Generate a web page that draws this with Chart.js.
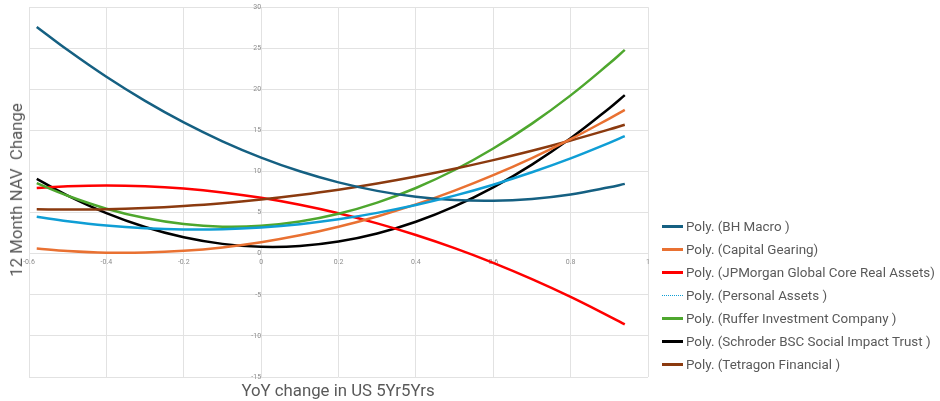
<!DOCTYPE html>
<html>
<head>
<meta charset="utf-8">
<script src="https://cdn.jsdelivr.net/npm/chart.js@4/dist/chart.umd.min.js"></script>
<style>
  html, body { margin: 0; padding: 0; background: #fff; }
  #wrap { position: relative; width: 940px; height: 401px; overflow: hidden; font-family: Roboto, "Liberation Sans", sans-serif; }
  #wrap canvas { position: absolute; left: 0; top: 0; }
  .ytitle { position: absolute; left: 16px; top: 190px; transform: translate(-50%, -50%) rotate(-90deg); white-space: pre; font-size: 16.8px; color: #595959; }
  .xtitle { position: absolute; left: 338px; top: 390px; transform: translate(-50%, -50%); white-space: pre; font-size: 16.8px; color: #595959; }
  #legend { position: absolute; left: 662px; top: 215px; }
  .item { height: 23px; display: flex; align-items: center; font-size: 13.4px; color: #595959; white-space: pre; }
  .swatch { width: 21px; height: 2.5px; margin-right: 3px; }
  .swatch.dot { height: 1px; }
</style>
</head>
<body>
<div id="wrap">
  <canvas id="chart" width="940" height="401"></canvas>
  <div class="ytitle">12 Month NAV  Change</div>
  <div class="xtitle">YoY change in US 5Yr5Yrs</div>
  <div id="legend"></div>
</div>
<script>
"use strict";
var xs = [-0.58, -0.5, -0.4, -0.3, -0.2, -0.1, 0, 0.1, 0.2, 0.3, 0.4, 0.5, 0.6, 0.7, 0.8, 0.9, 0.94];

var bhMacro    = [27.6, 24.78, 21.53, 18.6, 15.98, 13.68, 11.7, 10.03, 8.68, 7.65, 6.93, 6.53, 6.44, 6.67, 7.21, 8.08, 8.5];
var capGearing = [0.65, 0.34, 0.13, 0.14, 0.35, 0.77, 1.4, 2.24, 3.29, 4.54, 6.0, 7.68, 9.56, 11.64, 13.94, 16.45, 17.5];
var jpmGlobal  = [8.0, 8.21, 8.31, 8.21, 7.93, 7.46, 6.8, 5.95, 4.92, 3.69, 2.28, 0.68, -1.11, -3.09, -5.25, -7.61, -8.6];
var personal   = [4.5, 3.95, 3.43, 3.1, 2.95, 2.98, 3.2, 3.6, 4.19, 4.97, 5.93, 7.07, 8.4, 9.91, 11.6, 13.49, 14.3];
var ruffer     = [8.6, 7.05, 5.48, 4.34, 3.61, 3.29, 3.4, 3.92, 4.86, 6.22, 8.0, 10.19, 12.8, 15.83, 19.27, 23.14, 24.8];
var schroder   = [9.1, 7.07, 4.94, 3.25, 2.0, 1.2, 0.85, 0.94, 1.48, 2.46, 3.89, 5.76, 8.08, 10.85, 14.05, 17.71, 19.3];
var tetragon   = [5.4, 5.37, 5.41, 5.56, 5.81, 6.15, 6.6, 7.15, 7.79, 8.54, 9.39, 10.34, 11.39, 12.53, 13.78, 15.13, 15.7];

var xTicks = [-0.6, -0.4, -0.2, 0, 0.2, 0.4, 0.6, 0.8, 1];
var yTicks = [-15, -10, -5, 0, 5, 10, 15, 20, 25, 30];

var names = [
  "Poly. (BH Macro )",
  "Poly. (Capital Gearing)",
  "Poly. (JPMorgan Global Core Real Assets)",
  "Poly. (Personal Assets )",
  "Poly. (Ruffer Investment Company )",
  "Poly. (Schroder BSC Social Impact Trust )",
  "Poly. (Tetragon Financial )"
];
var series = [bhMacro, capGearing, jpmGlobal, personal, ruffer, schroder, tetragon];
var colors = ["#156082", "#E97132", "#FF0000", "#0F9ED5", "#4EA72E", "#000000", "#8B3A0F"];

// draw order: Personal Assets sits under the others
var order = [3, 0, 1, 6, 4, 2, 5];

var datasets = order.map(function(i) {
  return {
    label: names[i],
    data: xs.map(function(x, k) { return { x: x, y: series[i][k] }; }),
    borderColor: colors[i],
    borderWidth: 2.5,
    pointRadius: 0,
    fill: false,
    tension: 0.4
  };
});

var tickFont = { family: "Roboto, 'Liberation Sans', sans-serif", size: 7 };

new Chart(document.getElementById("chart").getContext("2d"), {
  type: 'line',
  data: { datasets: datasets },
  options: {
    responsive: false,
    animation: false,
    layout: { padding: { left: 29, top: 3, right: 292, bottom: 24 } },
    plugins: { legend: { display: false }, tooltip: { enabled: false } },
    scales: {
      x: {
        type: 'linear', min: -0.6, max: 1,
        position: { y: 0 },
        border: { display: false },
        grid: { color: '#e2e2e2', lineWidth: 1, drawTicks: false },
        afterBuildTicks: function(s) { s.ticks = xTicks.map(function(v) { return { value: v }; }); },
        ticks: { font: tickFont, color: '#8c8c8c', padding: 4, maxRotation: 0, autoSkip: false,
          callback: function(v) { return String(v); } }
      },
      y: {
        type: 'linear', min: -15, max: 30,
        position: { x: 0 },
        border: { display: false },
        grid: { color: '#e2e2e2', lineWidth: 1, drawTicks: false },
        afterBuildTicks: function(s) { s.ticks = yTicks.map(function(v) { return { value: v }; }); },
        ticks: { font: tickFont, color: '#8c8c8c', padding: 3, autoSkip: false,
          callback: function(v) { return String(v); } }
      }
    }
  }
});

// legend in the original series order
var legend = document.getElementById("legend");
names.forEach(function(n, i) {
  var row = document.createElement("div");
  row.className = "item";
  var sw = document.createElement("span");
  sw.className = "swatch";
  if (i === 3) {
    sw.className += " dot";
    sw.style.background = "repeating-linear-gradient(to right, " + colors[i] + " 0 1px, transparent 1px 2px)";
  } else {
    sw.style.background = colors[i];
  }
  var tx = document.createElement("span");
  tx.textContent = n;
  row.appendChild(sw);
  row.appendChild(tx);
  legend.appendChild(row);
});
</script>
</body>
</html>
